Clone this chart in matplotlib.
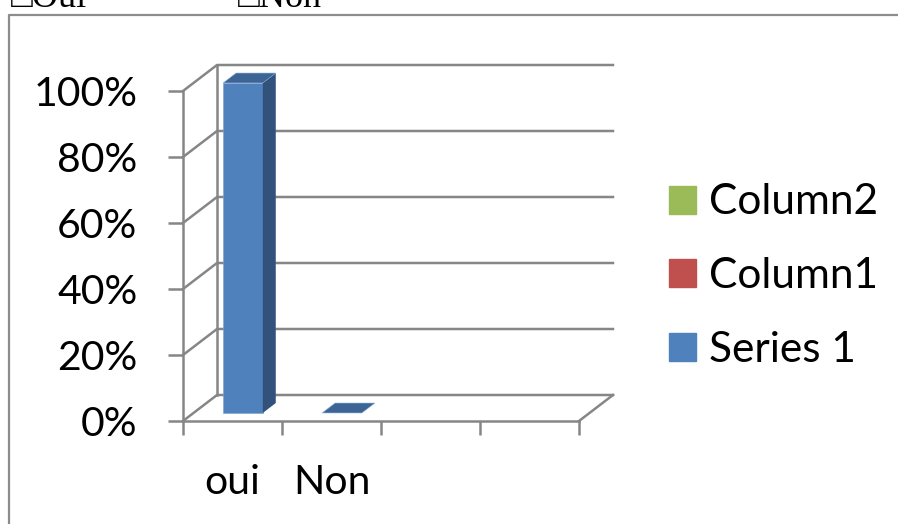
import numpy as np
import matplotlib
matplotlib.use('Agg')
import matplotlib.pyplot as plt
from matplotlib.patches import Patch
from matplotlib.lines import Line2D

# data
categories = ['oui', 'Non', '', '']
series_1 = [1.0, 0.0, np.nan, np.nan]
column1 = [np.nan, np.nan, np.nan, np.nan]
column2 = [np.nan, np.nan, np.nan, np.nan]
series_names = ['Series 1', 'Column1', 'Column2']
series_colors = ['#4F81BD', '#C0504D', '#9BBB59']
yticks = [0, 0.2, 0.4, 0.6, 0.8, 1.0]
ytick_labels = ['0%', '20%', '40%', '60%', '80%', '100%']

W, H = 898, 524
fig = plt.figure(figsize=(W/100, H/100), dpi=100)

# front plane in pixels: origin, px per category, px per 100%
x0px, y0px = 183, 421
cat_px, full_px = 99, 330
ax_l, ax_r, ax_t, ax_b = 150, 640, 40, 450
ax = fig.add_axes([ax_l/W, 1-ax_b/H, (ax_r-ax_l)/W, (ax_b-ax_t)/H])
ax.set_xlim((ax_l-x0px)/cat_px, (ax_r-x0px)/cat_px)
ax.set_ylim((y0px-ax_b)/full_px, (y0px-ax_t)/full_px)
ax.patch.set_visible(False)

# fake 3d depth (data units)
dx = 34/cat_px
dy = 26/full_px
n = len(categories)
grid_c = '#868686'
lw = 1.8

for v in yticks:
    ax.plot([0, dx, n+dx], [v+0, v+dy, v+dy], color=grid_c, lw=lw, zorder=1, clip_on=False)
ax.plot([dx, dx], [dy, yticks[-1]+dy], color=grid_c, lw=lw, zorder=1, clip_on=False)
ax.plot([n, n+dx], [0, dy], color=grid_c, lw=lw, zorder=1, clip_on=False)

# bars
bw = 0.4
z0, z1 = 0.31, 0.69
front_c, side_c, top_c = '#4F81BD', '#32527B', '#3C6494'
for i, v in enumerate(series_1):
    if np.isnan(v):
        continue
    xl = i + 0.5 - bw/2
    xr = i + 0.5 + bw/2
    if v > 0:
        ax.bar(i + 0.5 + z0*dx, v, width=bw, bottom=z0*dy, color=front_c, zorder=3,
               edgecolor='#7EA2D0', linewidth=0.4)
        ax.fill([xr+z0*dx, xr+z1*dx, xr+z1*dx, xr+z0*dx],
                [z0*dy, z1*dy, v+z1*dy, v+z0*dy], color=side_c, zorder=3, lw=0)
    ax.fill([xl+z0*dx, xr+z0*dx, xr+z1*dx, xl+z1*dx],
            [v+z0*dy, v+z0*dy, v+z1*dy, v+z1*dy], color=top_c, zorder=4,
            edgecolor='#7EA2D0', linewidth=0.4)

# axes
for s in ['top', 'right']:
    ax.spines[s].set_visible(False)
ax.spines['left'].set_position(('data', 0))
ax.spines['left'].set_bounds(0, yticks[-1])
ax.spines['bottom'].set_position(('data', 0))
ax.spines['bottom'].set_bounds(0, n)
for s in ['left', 'bottom']:
    ax.spines[s].set_color(grid_c)
    ax.spines[s].set_linewidth(lw)

lab_font = dict(family=['Lato', 'DejaVu Sans'], size=29.5)
ax.set_yticks(yticks)
ax.set_yticklabels(ytick_labels, **lab_font)
ax.tick_params(axis='y', direction='out', length=10.8, width=lw, color=grid_c, pad=22)
ax.set_xticks(np.arange(n+1))
ax.set_xticklabels([])
ax.set_xticks(np.arange(n) + 0.5, minor=True)
ax.set_xticklabels(categories, minor=True, **lab_font)
ax.tick_params(axis='x', which='major', direction='out', length=10, width=lw, color=grid_c)
ax.tick_params(axis='x', which='minor', length=0, pad=31)

# legend (reverse order like Excel)
handles = [Patch(color=c) for c in series_colors][::-1]
labels = series_names[::-1]
fig.legend(handles, labels, loc='center left', bbox_to_anchor=(669/W, 1-276/H),
           frameon=False, borderpad=0, borderaxespad=0, handlelength=0.64,
           handleheight=0.64, handletextpad=0.3, labelspacing=0.84,
           prop=dict(family=['Lato', 'DejaVu Sans'], size=30.5))

# text above the chart box, cut off at the top (as in the source image)
top_font = dict(family=['Liberation Serif', 'DejaVu Sans'], size=26)
fig.text(11/W, 1-7/H, '\u25a1Oui', va='baseline', **top_font)
fig.text(238/W, 1-7/H, '\u25a1Non', va='baseline', **top_font)

# chart box border
fig.add_artist(Line2D([9/W, 9/W, 1.0], [0, 1-15/H, 1-15/H], color='#8C8C8C', lw=1.6))

fig.savefig('out.png', dpi=100)
